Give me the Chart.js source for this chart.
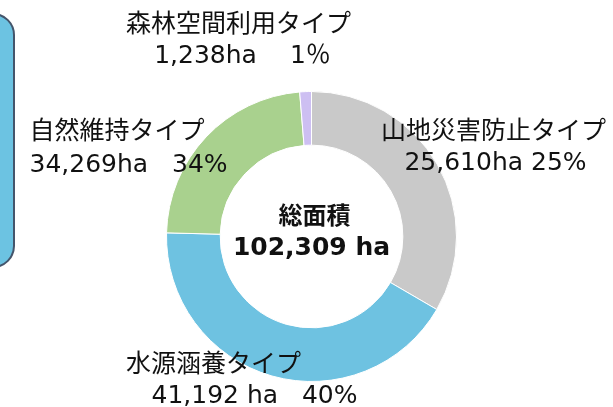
<!DOCTYPE html>
<html>
<head>
<meta charset="utf-8">
<script src="https://cdn.jsdelivr.net/npm/chart.js@4/dist/chart.umd.min.js"></script>
<style>
  html, body { margin: 0; padding: 0; background: #fff; }
  #wrap { position: relative; width: 613px; height: 407px; overflow: hidden; }
  #sidebox {
    position: absolute; left: -40px; top: 13px; width: 51px; height: 251px;
    background: #6cc3e2; border: 2px solid #44556b; border-radius: 22px;
  }
  canvas { position: absolute; left: 0; top: 0; }
</style>
</head>
<body>
<div id="wrap">
  <div id="sidebox"></div>
  <canvas id="chart" width="613" height="407"></canvas>
</div>
<script>
// slices clockwise from 12 o'clock, shares (%)
const typeNames = ['山地災害防止タイプ', '水源涵養タイプ', '自然維持タイプ', '森林空間利用タイプ'];
const drawnShare = [33.4, 42.0, 23.3, 1.3];
const valueLabels = ['25,610ha 25%', '41,192 ha   40%', '34,269ha   34%', '1,238ha　 1％'];
const sliceColors = ['#c9c9c9', '#6ec2e1', '#a9d18e', '#cdbff2'];
const totalTitle = '総面積';
const totalValue = '102,309 ha';

const FONT = '"DejaVu Sans", "Noto Sans CJK JP", sans-serif';

// where each label sits, relative to the ring centre: [line1, line2] as [dx, dy, align]
const labelSpots = [
  [[182, -104, 'center'], [184, -73, 'center']],
  [[-98, 129, 'center'], [-57, 160, 'center']],
  [[-282, -104, 'left'], [-282, -71, 'left']],
  [[-73, -211, 'center'], [-69, -180, 'center']]
];

const labelPlugin = {
  id: 'labels',
  afterDraw(chart) {
    const ctx = chart.ctx;
    const arc = chart.getDatasetMeta(0).data[0];
    const cx = arc.x, cy = arc.y;
    ctx.save();
    ctx.fillStyle = '#111';
    ctx.textBaseline = 'middle';
    ctx.font = '25px ' + FONT;
    typeNames.forEach((name, i) => {
      const [l1, l2] = labelSpots[i];
      ctx.textAlign = l1[2];
      ctx.fillText(name, cx + l1[0], cy + l1[1]);
      ctx.textAlign = l2[2];
      ctx.fillText(valueLabels[i], cx + l2[0], cy + l2[1]);
    });
    ctx.textAlign = 'center';
    ctx.font = 'bold 24px ' + FONT;
    ctx.fillText(totalTitle, cx + 3, cy - 19);
    ctx.font = 'bold 25px ' + FONT;
    ctx.fillText(totalValue, cx, cy + 12);
    ctx.restore();
  }
};

new Chart(document.getElementById('chart'), {
  type: 'doughnut',
  data: {
    labels: typeNames,
    datasets: [{
      data: drawnShare,
      backgroundColor: sliceColors,
      borderColor: '#ffffff',
      borderWidth: 1
    }]
  },
  options: {
    responsive: false,
    animation: false,
    cutout: '63%',
    layout: { padding: { top: 91, bottom: 25, left: 166, right: 156 } },
    plugins: {
      legend: { display: false },
      tooltip: { enabled: false }
    }
  },
  plugins: [labelPlugin]
});
</script>
</body>
</html>
